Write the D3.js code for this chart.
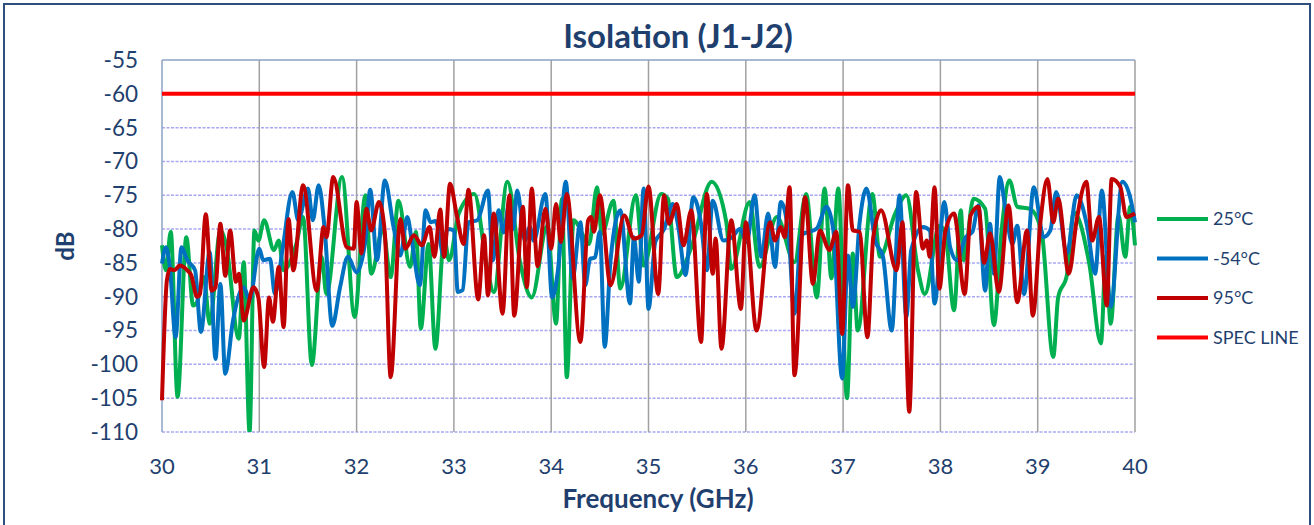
<!DOCTYPE html>
<html>
<head>
<meta charset="utf-8">
<script src="https://cdn.jsdelivr.net/npm/d3@7"></script>
<style>
  body { margin: 0; background: #fff; }
  text { font-family: Lato, "Noto Sans", sans-serif; fill: #1F3F6E; }
</style>
</head>
<body>
<div id="chart"></div>
<script>
var width = 1314,
    height = 525,
    margin = {top: 60, left: 162, right: 179, bottom: 93};

// 25°C
var freq25 = [30.00,30.04,30.09,30.16,30.25,30.32,30.36,30.43,30.49,30.60,30.66,30.79,30.84,30.90,30.95,30.99,31.05,31.15,31.20,31.25,31.38,31.45,31.54,31.64,31.69,31.85,31.98,32.09,32.15,32.27,32.35,32.43,32.55,32.61,32.66,32.74,32.81,32.90,32.95,33.05,33.21,33.34,33.41,33.55,33.68,33.80,33.96,34.05,34.11,34.16,34.23,34.39,34.47,34.52,34.64,34.71,34.87,34.95,35.13,35.20,35.29,35.44,35.65,35.80,35.85,36.04,36.14,36.32,36.50,36.62,36.73,36.81,36.88,36.95,37.04,37.10,37.15,37.30,37.38,37.53,37.65,37.77,37.84,37.99,38.05,38.14,38.21,38.24,38.34,38.46,38.55,38.63,38.71,38.79,38.92,39.04,39.16,39.21,39.30,39.37,39.53,39.65,39.70,39.75,39.83,39.90,39.95,40.00];
var db25 = [-82.4,-86.1,-80.4,-104.8,-81.2,-91.3,-90.8,-87.1,-94.0,-80.2,-82.4,-96.2,-84.9,-110.0,-80.2,-81.7,-78.7,-83.1,-81.7,-86.1,-82.2,-78.2,-100.1,-84.1,-89.6,-72.3,-93.0,-75.0,-86.6,-80.0,-87.1,-75.8,-85.6,-80.4,-94.7,-82.2,-97.7,-81.2,-84.6,-77.7,-74.8,-85.6,-89.3,-73.0,-84.9,-90.1,-79.5,-94.0,-75.5,-101.9,-78.7,-82.2,-73.8,-80.7,-75.8,-88.8,-75.0,-85.4,-74.8,-75.5,-87.1,-82.7,-73.0,-79.0,-85.9,-76.0,-85.6,-78.2,-84.9,-74.8,-90.1,-74.0,-87.3,-74.0,-105.0,-83.6,-95.0,-74.8,-84.1,-77.9,-75.0,-86.1,-89.6,-79.5,-80.6,-92.0,-77.2,-84.6,-75.5,-77.0,-94.2,-80.0,-72.8,-76.7,-77.0,-80.4,-98.9,-90.1,-86.8,-77.5,-85.1,-96.9,-84.0,-94.0,-78.0,-84.1,-76.7,-82.4];

// -54°C
var freqM54 = [30.00,30.04,30.08,30.14,30.20,30.26,30.34,30.40,30.49,30.55,30.60,30.65,30.73,30.84,30.90,31.00,31.04,31.11,31.16,31.24,31.34,31.40,31.50,31.55,31.61,31.67,31.75,31.83,31.91,32.00,32.09,32.14,32.21,32.29,32.38,32.45,32.52,32.57,32.65,32.71,32.76,32.81,32.90,32.93,33.00,33.04,33.09,33.15,33.24,33.35,33.40,33.46,33.51,33.57,33.61,33.65,33.73,33.78,33.82,33.94,34.01,34.07,34.15,34.22,34.30,34.35,34.40,34.45,34.50,34.55,34.61,34.71,34.81,34.85,34.90,34.95,35.00,35.07,35.16,35.25,35.31,35.38,35.46,35.54,35.60,35.66,35.77,35.86,35.94,36.01,36.09,36.16,36.23,36.30,36.36,36.44,36.50,36.57,36.73,36.83,36.90,36.99,37.05,37.10,37.17,37.24,37.33,37.41,37.50,37.58,37.65,37.70,37.82,37.89,37.94,38.04,38.10,38.17,38.26,38.33,38.39,38.46,38.51,38.55,38.61,38.67,38.74,38.79,38.86,38.96,39.06,39.13,39.19,39.30,39.40,39.51,39.59,39.66,39.75,39.87,39.95,40.00];
var dbM54 = [-85.1,-82.7,-85.5,-96.0,-82.7,-84.6,-86.1,-95.2,-83.4,-99.2,-88.1,-101.4,-93.5,-88.6,-90.5,-82.9,-84.6,-84.4,-89.6,-82.9,-74.5,-78.7,-74.0,-78.7,-73.5,-79.7,-94.3,-88.6,-84.1,-86.4,-81.7,-74.2,-84.6,-72.8,-79.7,-83.9,-78.2,-82.0,-88.3,-77.2,-79.0,-78.8,-84.1,-80.0,-80.2,-89.3,-89.0,-79.0,-78.7,-74.3,-84.6,-77.2,-80.5,-76.0,-80.0,-74.3,-81.7,-79.7,-81.7,-74.8,-90.1,-86.0,-73.0,-87.3,-79.0,-88.3,-84.4,-84.2,-80.4,-97.4,-84.6,-77.2,-91.0,-81.2,-87.8,-74.0,-91.8,-81.9,-80.0,-76.3,-80.0,-86.8,-75.3,-79.2,-86.1,-75.8,-81.7,-81.2,-80.0,-81.9,-75.0,-84.1,-77.7,-85.6,-76.0,-80.9,-92.5,-80.9,-79.9,-76.7,-80.2,-102.1,-83.9,-91.5,-79.0,-74.0,-81.7,-84.1,-95.0,-75.0,-93.0,-83.1,-79.7,-80.2,-91.0,-76.0,-82.7,-84.6,-81.2,-80.4,-76.5,-89.1,-79.2,-86.6,-72.3,-77.2,-82.2,-79.5,-89.6,-73.8,-81.2,-80.2,-74.5,-83.6,-75.0,-79.7,-86.6,-74.3,-91.5,-73.0,-75.3,-79.0];

// 95°C
var freq95 = [30.00,30.05,30.08,30.13,30.18,30.26,30.30,30.36,30.39,30.45,30.51,30.55,30.60,30.65,30.70,30.76,30.79,30.84,30.94,30.99,31.05,31.10,31.14,31.20,31.25,31.30,31.35,31.45,31.59,31.66,31.69,31.76,31.90,31.97,32.00,32.05,32.10,32.15,32.23,32.29,32.35,32.45,32.50,32.59,32.67,32.75,32.80,32.86,32.90,32.96,33.03,33.10,33.15,33.25,33.31,33.35,33.41,33.50,33.57,33.62,33.71,33.75,33.80,33.86,33.94,34.00,34.05,34.10,34.16,34.30,34.38,34.41,34.44,34.50,34.61,34.75,34.85,34.93,35.00,35.10,35.16,35.21,35.29,35.36,35.44,35.54,35.60,35.66,35.69,35.75,35.85,35.95,36.00,36.11,36.25,36.30,36.36,36.40,36.45,36.50,36.61,36.69,36.76,36.86,36.93,36.99,37.05,37.10,37.17,37.25,37.31,37.39,37.55,37.61,37.68,37.75,37.82,37.86,37.89,37.94,37.99,38.05,38.14,38.25,38.31,38.39,38.45,38.51,38.60,38.70,38.79,38.89,38.95,39.03,39.10,39.16,39.21,39.32,39.40,39.50,39.56,39.63,39.71,39.76,39.85,39.91,40.00];
var db95 = [-105.3,-87.6,-85.9,-86.1,-85.4,-86.1,-86.8,-90.0,-89.6,-77.8,-89.1,-88.6,-79.2,-86.9,-80.2,-87.8,-86.6,-93.5,-88.6,-90.1,-100.4,-90.1,-93.7,-85.6,-94.5,-78.5,-86.1,-73.5,-89.1,-79.7,-81.2,-72.3,-82.7,-82.9,-76.0,-83.6,-77.0,-80.2,-76.0,-80.5,-101.9,-78.5,-82.9,-80.9,-82.4,-79.7,-84.1,-77.1,-84.1,-73.3,-78.0,-82.2,-74.2,-90.4,-80.9,-89.8,-77.7,-92.5,-75.0,-92.8,-76.7,-88.6,-74.0,-85.5,-77.0,-82.9,-76.3,-81.9,-74.8,-96.7,-78.7,-78.2,-80.4,-75.0,-88.3,-78.0,-81.4,-80.9,-73.7,-89.6,-75.0,-79.2,-76.3,-82.4,-77.2,-96.7,-74.8,-86.6,-81.4,-97.7,-78.7,-91.8,-79.0,-95.0,-79.0,-81.7,-79.7,-81.2,-73.8,-101.6,-75.3,-88.1,-80.2,-83.1,-80.4,-95.5,-73.5,-80.2,-80.4,-96.0,-81.2,-77.2,-86.1,-79.0,-107.0,-74.5,-82.9,-81.7,-84.1,-73.8,-88.8,-80.4,-77.7,-89.6,-78.0,-76.7,-85.0,-80.6,-89.3,-76.5,-90.8,-80.2,-92.8,-78.7,-72.6,-79.0,-75.5,-86.6,-78.7,-73.0,-81.7,-78.2,-91.3,-72.6,-73.8,-78.2,-77.7];

// spec line
var specFreq = [30, 40];
var specDb = [-60, -60];

var seriesNames = ["25°C", "-54°C", "95°C", "SPEC LINE"];
var seriesColors = ["#00B050", "#0070C0", "#C00000", "#FF0000"];
var xTicks = [30, 31, 32, 33, 34, 35, 36, 37, 38, 39, 40];
var yTicks = [-55, -60, -65, -70, -75, -80, -85, -90, -95, -100, -105, -110];

var series = [
  {name: seriesNames[0], f: freq25, v: db25},
  {name: seriesNames[1], f: freqM54, v: dbM54},
  {name: seriesNames[2], f: freq95, v: db95},
  {name: seriesNames[3], f: specFreq, v: specDb}
];

var svg = d3.select("#chart").append("svg")
  .attr("width", width)
  .attr("height", height);

// outer frame
svg.append("rect")
  .attr("x", 4).attr("y", 4)
  .attr("width", 1306).attr("height", 600)
  .attr("fill", "none")
  .attr("stroke", "#2E4F7E")
  .attr("stroke-width", 2);

var x = d3.scaleLinear().domain([30, 40]).range([margin.left, width - margin.right]);
var y = d3.scaleLinear().domain([-110, -55]).range([height - margin.bottom, margin.top]);

// horizontal grid (dashed lavender)
svg.append("g")
  .selectAll("line")
  .data(yTicks.filter(function(d) { return d !== -55; }))
  .enter().append("line")
  .attr("x1", x(30)).attr("x2", x(40))
  .attr("y1", function(d) { return y(d); })
  .attr("y2", function(d) { return y(d); })
  .attr("stroke", "#A8A8F5")
  .attr("stroke-width", 1.5)
  .attr("stroke-dasharray", "3,1.5");

// vertical grid
svg.append("g")
  .selectAll("line")
  .data(xTicks.slice(1))
  .enter().append("line")
  .attr("x1", function(d) { return x(d); })
  .attr("x2", function(d) { return x(d); })
  .attr("y1", y(-55)).attr("y2", y(-110))
  .attr("stroke", "#A0A0A0")
  .attr("stroke-width", 1.5);

// top edge and left axis line
svg.append("line")
  .attr("x1", x(30)).attr("x2", x(40))
  .attr("y1", y(-55)).attr("y2", y(-55))
  .attr("stroke", "#8BA3C4").attr("stroke-width", 1.5);
svg.append("line")
  .attr("x1", x(30)).attr("x2", x(30))
  .attr("y1", y(-55)).attr("y2", y(-110))
  .attr("stroke", "#8BA3C4").attr("stroke-width", 1.5);

// y tick labels
svg.append("g")
  .selectAll("text")
  .data(yTicks)
  .enter().append("text")
  .attr("x", 138)
  .attr("y", function(d) { return y(d); })
  .attr("dy", "0.35em")
  .attr("text-anchor", "end")
  .style("font-size", "22.5px")
  .text(function(d) { return d; });

// x tick labels
svg.append("g")
  .selectAll("text")
  .data(xTicks)
  .enter().append("text")
  .attr("x", function(d) { return x(d); })
  .attr("y", 474)
  .attr("text-anchor", "middle")
  .style("font-size", "22px")
  .text(function(d) { return d; });

// titles
svg.append("text")
  .attr("x", 678).attr("y", 48)
  .attr("text-anchor", "middle")
  .style("font-size", "33px").style("font-weight", "bold")
  .text("Isolation (J1-J2)");

svg.append("text")
  .attr("x", 658).attr("y", 508)
  .attr("text-anchor", "middle")
  .style("font-size", "26px").style("font-weight", "bold")
  .text("Frequency (GHz)");

svg.append("text")
  .attr("transform", "translate(74,246) rotate(-90)")
  .attr("text-anchor", "middle")
  .style("font-size", "24px").style("font-weight", "bold")
  .text("dB");

// lines
var line = d3.line()
  .curve(d3.curveMonotoneX)
  .x(function(d) { return x(d[0]); })
  .y(function(d) { return y(d[1]); });

svg.append("defs").append("clipPath").attr("id", "plotclip")
  .append("rect")
  .attr("x", x(30) - 3).attr("y", y(-55))
  .attr("width", x(40) - x(30) + 6).attr("height", y(-110) - y(-55));

svg.append("g")
  .attr("clip-path", "url(#plotclip)")
  .selectAll("path")
  .data(series)
  .enter().append("path")
  .attr("d", function(s) { return line(d3.zip(s.f, s.v)); })
  .attr("fill", "none")
  .attr("stroke", function(s, i) { return seriesColors[i]; })
  .attr("stroke-width", 4)
  .attr("stroke-linejoin", "round");

// legend
var legend = svg.append("g")
  .selectAll("g")
  .data(series)
  .enter().append("g")
  .attr("transform", function(d, i) { return "translate(1157," + (219 + i * 39.5) + ")"; });

legend.append("line")
  .attr("x1", 0).attr("x2", 51)
  .attr("stroke", function(d, i) { return seriesColors[i]; })
  .attr("stroke-width", 4);

legend.append("text")
  .attr("x", 56)
  .attr("dy", "0.35em")
  .style("font-size", "18px")
  .text(function(d) { return d.name; });
</script>
</body>
</html>
